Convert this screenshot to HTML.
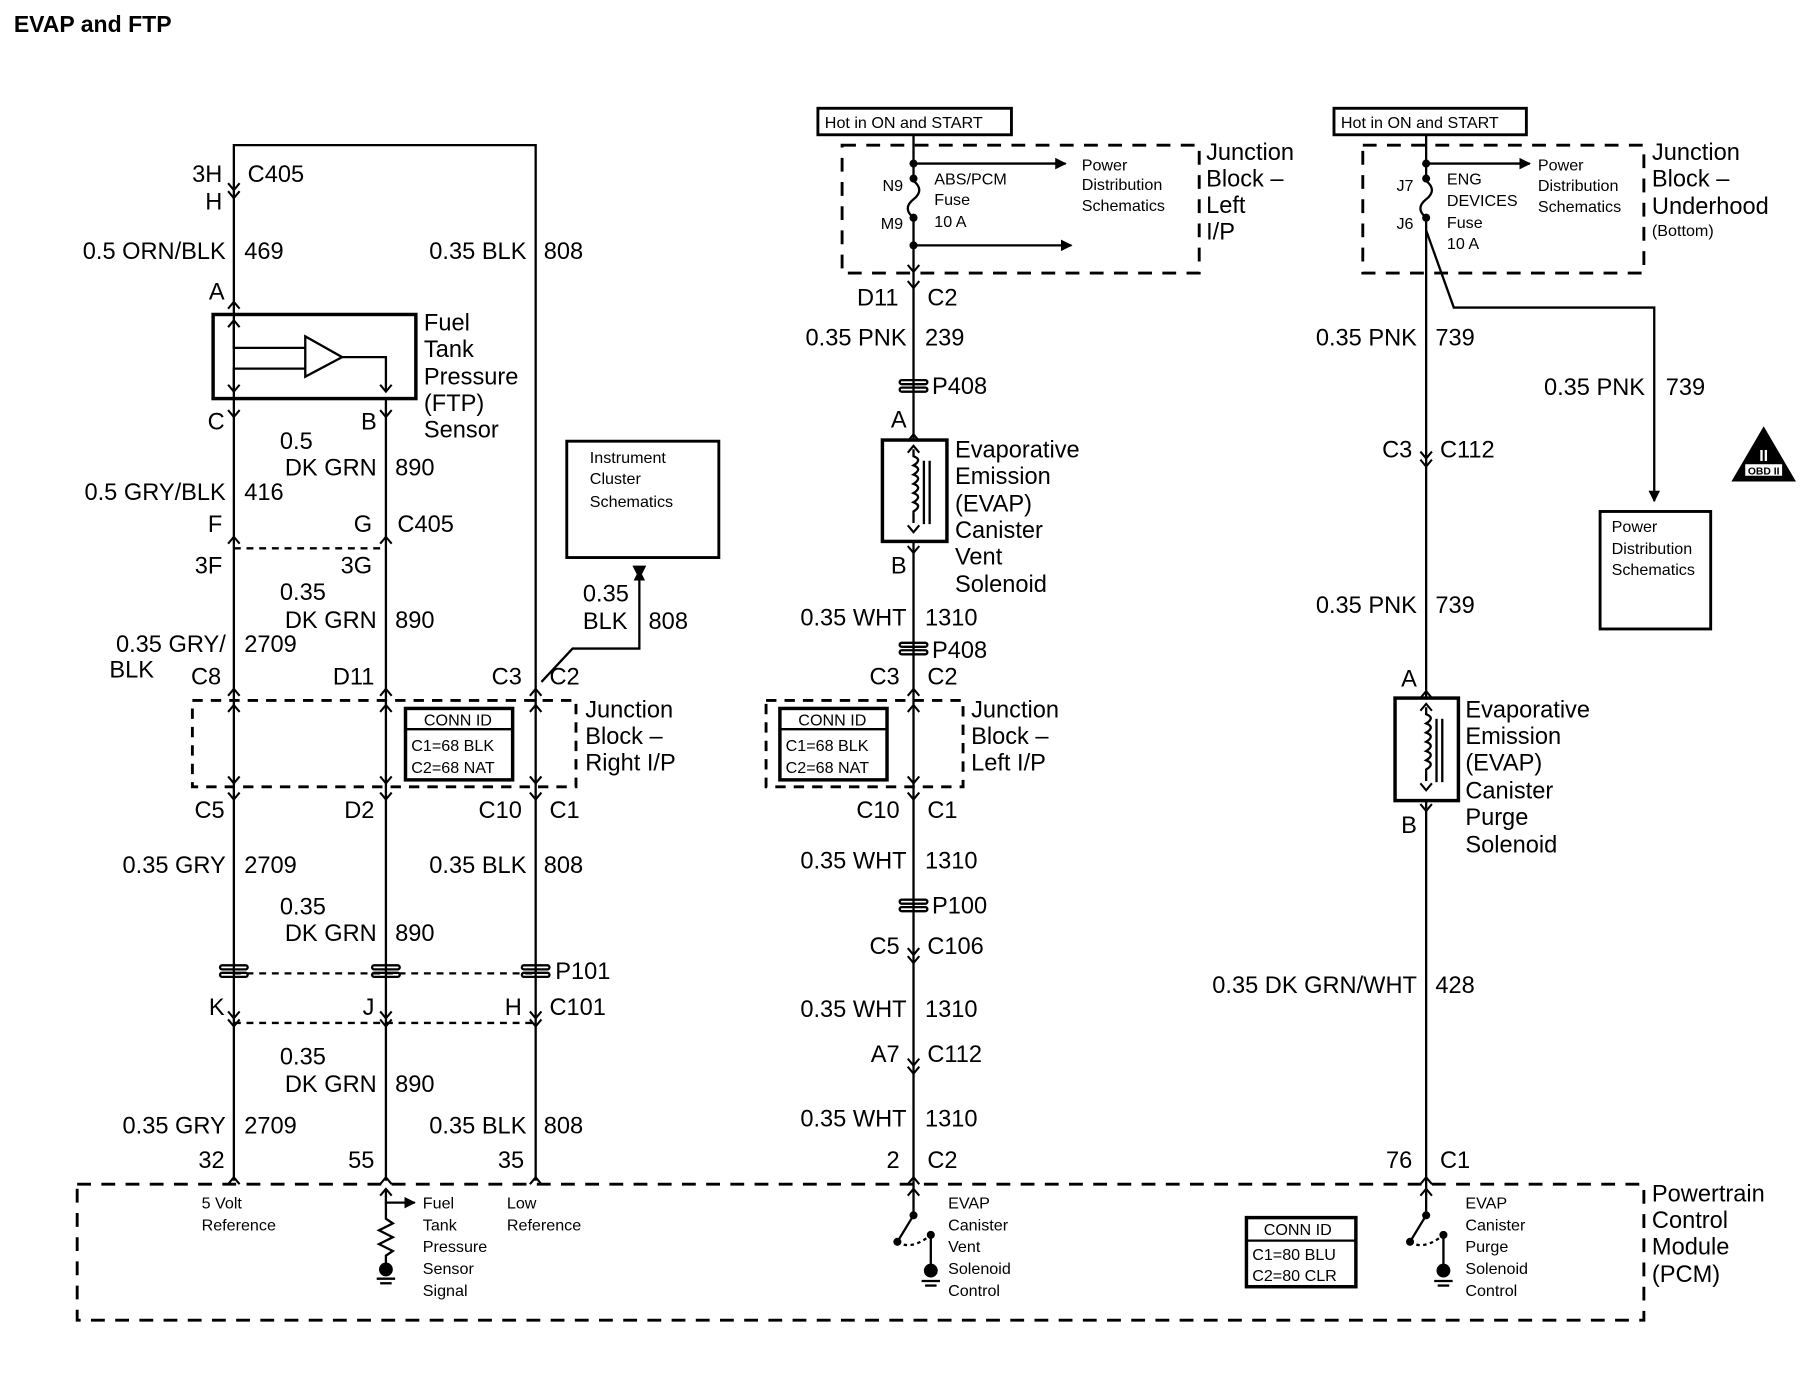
<!DOCTYPE html>
<html><head><meta charset="utf-8"><style>
html,body{margin:0;padding:0;background:#fff}
svg{display:block}
text{font-family:"Liberation Sans",Arial,sans-serif;fill:#000}
.w{font-size:20.5px}
.s{font-size:14px}
.r{text-anchor:end}
</style></head><body>
<svg width="1804" height="1376" viewBox="0 0 1566 1194.5" preserveAspectRatio="none" xmlns="http://www.w3.org/2000/svg">
<defs>
<marker id="ah" markerWidth="10" markerHeight="10" refX="9" refY="5" orient="auto" markerUnits="userSpaceOnUse"><path d="M0,0 L10,5 L0,10 z" fill="#000"/></marker>
<g id="ilc"><rect x="-12" y="-5" width="24" height="3.5" rx="1.7" fill="none" stroke="#000" stroke-width="2"/><rect x="-12" y="1.5" width="24" height="3.5" rx="1.7" fill="none" stroke="#000" stroke-width="2"/></g>
<path id="cd" d="M-5,-6 L0,0 L5,-6" fill="none" stroke="#000" stroke-width="1.8"/>
<path id="cu" d="M-5,6 L0,0 L5,6" fill="none" stroke="#000" stroke-width="1.8"/>
</defs>
<text x="12" y="28" style="font-size:20px;font-weight:bold">EVAP and FTP</text>

<g stroke="#000" stroke-width="2" fill="none">
<polyline points="203,1025 203,126 465,126 465,1025"/>
<line x1="335" y1="346" x2="335" y2="1025"/>
<rect x="185" y="273" width="176" height="73" stroke-width="3"/>
<polyline points="203,280 203,302 265,302"/>
<polyline points="265,320 203,320 203,340"/>
<polygon points="265,292 265,327 297,310"/>
<polyline points="297,310 335,310 335,340"/>
<use href="#cd" x="203" y="165"/><use href="#cd" x="203" y="172"/>
<use href="#cu" x="203" y="262"/><use href="#cu" x="203" y="278"/>
<use href="#cd" x="203" y="340"/><use href="#cd" x="335" y="340"/>
<use href="#cd" x="203" y="362"/><use href="#cd" x="335" y="362"/>
<use href="#cu" x="203" y="466"/><use href="#cu" x="335" y="466"/>
<line x1="203" y1="476" x2="335" y2="476" stroke-dasharray="6,5"/>
<use href="#cu" x="203" y="598"/><use href="#cu" x="335" y="598"/><use href="#cu" x="465" y="598"/>
<use href="#cu" x="203" y="612"/><use href="#cu" x="335" y="612"/><use href="#cu" x="465" y="612"/>
<use href="#cd" x="203" y="680"/><use href="#cd" x="335" y="680"/><use href="#cd" x="465" y="680"/>
<use href="#cd" x="203" y="694"/><use href="#cd" x="335" y="694"/><use href="#cd" x="465" y="694"/>
<rect x="167" y="608" width="333" height="75" stroke-width="2.5" stroke-dasharray="9,7"/>
<rect x="352" y="615" width="93" height="62" stroke-width="3"/>
<line x1="352" y1="633" x2="445" y2="633"/>
<polyline points="470,592 497,563 555,563 555,495" marker-end="url(#ah)"/>
<rect x="492" y="383" width="132" height="101" stroke-width="2.5"/>
<line x1="203" y1="845" x2="465" y2="845" stroke-dasharray="6,5"/>
<line x1="203" y1="888" x2="465" y2="888" stroke-dasharray="6,5"/>
<use href="#cd" x="203" y="884"/><use href="#cd" x="335" y="884"/><use href="#cd" x="465" y="884"/>
<use href="#cd" x="203" y="891"/><use href="#cd" x="335" y="891"/><use href="#cd" x="465" y="891"/>
<use href="#cu" x="203" y="1022"/><use href="#cu" x="465" y="1022"/>

<rect x="67" y="1028" width="1360" height="118" stroke-width="2.5" stroke-dasharray="12,9"/>
<rect x="1082" y="1057" width="95" height="60" stroke-width="3"/>
<line x1="1082" y1="1077" x2="1177" y2="1077"/>
<use href="#cu" x="335" y="1022"/><use href="#cu" x="335" y="1032"/>
<polyline points="335,1032 335,1044 360,1044" marker-end="url(#ah)"/>
<polyline points="335,1044 335,1058 341,1062 329,1068 341,1074 329,1080 341,1086 335,1090 335,1098"/>
<line x1="327" y1="1110" x2="343" y2="1110"/><line x1="330" y1="1114" x2="340" y2="1114"/>

<line x1="793" y1="117" x2="793" y2="155"/>
<path d="M793,157 q10,8 0,16 q-10,8 0,16"/>
<line x1="793" y1="189" x2="793" y2="382"/>
<line x1="793" y1="142" x2="925" y2="142" marker-end="url(#ah)"/>
<line x1="793" y1="213" x2="930" y2="213" marker-end="url(#ah)"/>
<rect x="731" y="126" width="310" height="111" stroke-width="2.5" stroke-dasharray="12,9"/>
<rect x="710" y="94" width="168" height="23" stroke-width="2.5"/>
<use href="#cd" x="793" y="236"/><use href="#cd" x="793" y="250"/>
<use href="#cu" x="793" y="377"/><use href="#cu" x="793" y="387"/>
<rect x="766" y="382" width="56" height="88" stroke-width="3"/>
<path d="M793,390 v6 q8,3 0,8 q8,3 0,8 q8,3 0,8 q8,3 0,8 q8,3 0,8 q8,3 0,8 v10"/>
<line x1="802" y1="400" x2="802" y2="455"/><line x1="807" y1="400" x2="807" y2="455"/>
<use href="#cd" x="793" y="462"/>
<line x1="793" y1="470" x2="793" y2="1025"/>
<use href="#cd" x="793" y="480"/>
<use href="#cu" x="793" y="598"/><use href="#cu" x="793" y="612"/>
<use href="#cd" x="793" y="680"/><use href="#cd" x="793" y="694"/>
<rect x="665" y="608" width="171" height="75" stroke-width="2.5" stroke-dasharray="9,7"/>
<rect x="677" y="615" width="93" height="62" stroke-width="3"/>
<line x1="677" y1="633" x2="770" y2="633"/>
<use href="#cd" x="793" y="829"/><use href="#cd" x="793" y="836"/>
<use href="#cd" x="793" y="925"/><use href="#cd" x="793" y="932"/>
<use href="#cu" x="793" y="1022"/><use href="#cu" x="793" y="1032"/>
<line x1="793" y1="1025" x2="793" y2="1055"/>
<line x1="793" y1="1055" x2="779" y2="1078"/>
<path d="M779,1078 q12,8 29,-6" stroke-dasharray="3,3"/>
<line x1="808" y1="1072" x2="808" y2="1100"/>
<line x1="800" y1="1112" x2="816" y2="1112"/><line x1="803" y1="1116" x2="813" y2="1116"/>

<rect x="1158" y="94" width="167" height="23" stroke-width="2.5"/>
<rect x="1183" y="126" width="244" height="111" stroke-width="2.5" stroke-dasharray="12,9"/>
<line x1="1238" y1="117" x2="1238" y2="155"/>
<path d="M1238,157 q10,8 0,16 q-10,8 0,16"/>
<line x1="1238" y1="189" x2="1238" y2="606"/>
<line x1="1238" y1="142" x2="1328" y2="142" marker-end="url(#ah)"/>
<polyline points="1238,200 1262,267 1436,267 1436,435" marker-end="url(#ah)"/>
<rect x="1389" y="444" width="96" height="102" stroke-width="2.5"/>
<use href="#cd" x="1238" y="398"/><use href="#cd" x="1238" y="405"/>
<use href="#cu" x="1238" y="600"/><use href="#cu" x="1238" y="611"/>
<rect x="1211" y="606" width="55" height="89" stroke-width="3"/>
<path d="M1238,614 v6 q8,3 0,8 q8,3 0,8 q8,3 0,8 q8,3 0,8 q8,3 0,8 q8,3 0,8 v10"/>
<line x1="1247" y1="624" x2="1247" y2="679"/><line x1="1252" y1="624" x2="1252" y2="679"/>
<use href="#cd" x="1238" y="686"/><use href="#cd" x="1238" y="704"/>
<line x1="1238" y1="695" x2="1238" y2="1055"/>
<use href="#cu" x="1238" y="1022"/><use href="#cu" x="1238" y="1032"/>
<line x1="1238" y1="1055" x2="1224" y2="1078"/>
<path d="M1224,1078 q12,8 29,-6" stroke-dasharray="3,3"/>
<line x1="1253" y1="1072" x2="1253" y2="1100"/>
<line x1="1245" y1="1112" x2="1261" y2="1112"/><line x1="1248" y1="1116" x2="1258" y2="1116"/>
</g>
<g fill="#000">
<use href="#ilc" x="203" y="843"/><use href="#ilc" x="335" y="843"/><use href="#ilc" x="465" y="843"/>
<use href="#ilc" x="793" y="335"/><use href="#ilc" x="793" y="563"/><use href="#ilc" x="793" y="786"/>
<circle cx="793" cy="142" r="3.5"/><circle cx="793" cy="155" r="3.5"/><circle cx="793" cy="189" r="3.5"/><circle cx="793" cy="213" r="3.5"/>
<circle cx="1238" cy="142" r="3.5"/><circle cx="1238" cy="155" r="3.5"/><circle cx="1238" cy="189" r="3.5"/>
<circle cx="793" cy="1055" r="3.5"/><circle cx="779" cy="1078" r="3.5"/><circle cx="808" cy="1072" r="3.5"/><ellipse cx="808" cy="1103" rx="6" ry="6"/>
<circle cx="1238" cy="1055" r="3.5"/><circle cx="1224" cy="1078" r="3.5"/><circle cx="1253" cy="1072" r="3.5"/><ellipse cx="1253" cy="1103" rx="6" ry="6"/>
<ellipse cx="335" cy="1102" rx="6" ry="6"/>
<polygon points="555,503 549,491 561,491"/>
<polygon points="1531,370 1503,418 1559,418"/>
</g>
<rect x="1515" y="403" width="32" height="10" fill="#fff"/>
<text x="1531" y="412" style="font-size:9px;font-weight:bold;text-anchor:middle">OBD II</text>
<text x="1531" y="400" style="font-size:14px;font-weight:bold;text-anchor:middle;fill:#fff">II</text>

<g class="w">
<text x="193" y="158" class="r">3H</text><text x="215" y="158">C405</text>
<text x="193" y="182" class="r">H</text>
<text x="196" y="225" class="r">0.5 ORN/BLK</text><text x="212" y="225">469</text>
<text x="457" y="225" class="r">0.35 BLK</text><text x="472" y="225">808</text>
<text x="195" y="260" class="r">A</text>
<text x="368" y="287">Fuel</text><text x="368" y="310">Tank</text><text x="368" y="334">Pressure</text><text x="368" y="357">(FTP)</text><text x="368" y="380">Sensor</text>
<text x="195" y="373" class="r">C</text><text x="327" y="373" class="r">B</text>
<text x="243" y="390">0.5</text><text x="327" y="413" class="r">DK GRN</text><text x="343" y="413">890</text>
<text x="196" y="434" class="r">0.5 GRY/BLK</text><text x="212" y="434">416</text>
<text x="193" y="462" class="r">F</text><text x="323" y="462" class="r">G</text><text x="345" y="462">C405</text>
<text x="193" y="498" class="r">3F</text><text x="323" y="498" class="r">3G</text>
<text x="243" y="521">0.35</text><text x="327" y="545" class="r">DK GRN</text><text x="343" y="545">890</text>
<text x="196" y="566" class="r">0.35 GRY/</text><text x="95" y="588">BLK</text><text x="212" y="566">2709</text>
<text x="192" y="594" class="r">C8</text><text x="325" y="594" class="r">D11</text><text x="453" y="594" class="r">C3</text><text x="477" y="594">C2</text>
<text x="506" y="522">0.35</text><text x="506" y="546">BLK</text><text x="563" y="546">808</text>
<text x="508" y="623">Junction</text><text x="508" y="646">Block –</text><text x="508" y="669">Right I/P</text>
<text x="195" y="710" class="r">C5</text><text x="325" y="710" class="r">D2</text><text x="453" y="710" class="r">C10</text><text x="477" y="710">C1</text>
<text x="196" y="758" class="r">0.35 GRY</text><text x="212" y="758">2709</text>
<text x="457" y="758" class="r">0.35 BLK</text><text x="472" y="758">808</text>
<text x="243" y="794">0.35</text><text x="327" y="817" class="r">DK GRN</text><text x="343" y="817">890</text>
<text x="482" y="850">P101</text>
<text x="195" y="881" class="r">K</text><text x="325" y="881" class="r">J</text><text x="453" y="881" class="r">H</text><text x="477" y="881">C101</text>
<text x="243" y="924">0.35</text><text x="327" y="948" class="r">DK GRN</text><text x="343" y="948">890</text>
<text x="196" y="984" class="r">0.35 GRY</text><text x="212" y="984">2709</text>
<text x="457" y="984" class="r">0.35 BLK</text><text x="472" y="984">808</text>
<text x="195" y="1014" class="r">32</text><text x="325" y="1014" class="r">55</text><text x="455" y="1014" class="r">35</text>
<text x="1434" y="1043">Powertrain</text><text x="1434" y="1066">Control</text><text x="1434" y="1089">Module</text><text x="1434" y="1113">(PCM)</text>
<text x="1047" y="139">Junction</text><text x="1047" y="162">Block –</text><text x="1047" y="185">Left</text><text x="1047" y="208">I/P</text>
<text x="780" y="265" class="r">D11</text><text x="805" y="265">C2</text>
<text x="787" y="300" class="r">0.35 PNK</text><text x="803" y="300">239</text>
<text x="809" y="342">P408</text>
<text x="787" y="371" class="r">A</text>
<text x="829" y="397">Evaporative</text><text x="829" y="420">Emission</text><text x="829" y="444">(EVAP)</text><text x="829" y="467">Canister</text><text x="829" y="490">Vent</text><text x="829" y="514">Solenoid</text>
<text x="787" y="498" class="r">B</text>
<text x="787" y="543" class="r">0.35 WHT</text><text x="803" y="543">1310</text>
<text x="809" y="571">P408</text>
<text x="781" y="594" class="r">C3</text><text x="805" y="594">C2</text>
<text x="843" y="623">Junction</text><text x="843" y="646">Block –</text><text x="843" y="669">Left I/P</text>
<text x="781" y="710" class="r">C10</text><text x="805" y="710">C1</text>
<text x="787" y="754" class="r">0.35 WHT</text><text x="803" y="754">1310</text>
<text x="809" y="793">P100</text>
<text x="781" y="828" class="r">C5</text><text x="805" y="828">C106</text>
<text x="787" y="883" class="r">0.35 WHT</text><text x="803" y="883">1310</text>
<text x="781" y="922" class="r">A7</text><text x="805" y="922">C112</text>
<text x="787" y="978" class="r">0.35 WHT</text><text x="803" y="978">1310</text>
<text x="781" y="1014" class="r">2</text><text x="805" y="1014">C2</text>
<text x="1434" y="139">Junction</text><text x="1434" y="162">Block –</text><text x="1434" y="186">Underhood</text>
<text x="1230" y="300" class="r">0.35 PNK</text><text x="1246" y="300">739</text>
<text x="1428" y="343" class="r">0.35 PNK</text><text x="1446" y="343">739</text>
<text x="1226" y="397" class="r">C3</text><text x="1250" y="397">C112</text>
<text x="1230" y="532" class="r">0.35 PNK</text><text x="1246" y="532">739</text>
<text x="1230" y="596" class="r">A</text>
<text x="1272" y="623">Evaporative</text><text x="1272" y="646">Emission</text><text x="1272" y="669">(EVAP)</text><text x="1272" y="693">Canister</text><text x="1272" y="716">Purge</text><text x="1272" y="740">Solenoid</text>
<text x="1230" y="723" class="r">B</text>
<text x="1230" y="862" class="r">0.35 DK GRN/WHT</text><text x="1246" y="862">428</text>
<text x="1226" y="1014" class="r">76</text><text x="1250" y="1014">C1</text>
</g>
<g class="s">
<text x="512" y="402">Instrument</text><text x="512" y="420">Cluster</text><text x="512" y="440">Schematics</text>
<text x="368" y="630">CONN ID</text><text x="357" y="652">C1=68 BLK</text><text x="357" y="671">C2=68 NAT</text>
<text x="693" y="630">CONN ID</text><text x="682" y="652">C1=68 BLK</text><text x="682" y="671">C2=68 NAT</text>
<text x="175" y="1049">5 Volt</text><text x="175" y="1068">Reference</text>
<text x="367" y="1049">Fuel</text><text x="367" y="1068">Tank</text><text x="367" y="1087">Pressure</text><text x="367" y="1106">Sensor</text><text x="367" y="1125">Signal</text>
<text x="440" y="1049">Low</text><text x="440" y="1068">Reference</text>
<text x="823" y="1049">EVAP</text><text x="823" y="1068">Canister</text><text x="823" y="1087">Vent</text><text x="823" y="1106">Solenoid</text><text x="823" y="1125">Control</text>
<text x="1097" y="1072">CONN ID</text><text x="1087" y="1094">C1=80 BLU</text><text x="1087" y="1112">C2=80 CLR</text>
<text x="1272" y="1049">EVAP</text><text x="1272" y="1068">Canister</text><text x="1272" y="1087">Purge</text><text x="1272" y="1106">Solenoid</text><text x="1272" y="1125">Control</text>
<text x="716" y="111">Hot in ON and START</text>
<text x="1164" y="111">Hot in ON and START</text>
<text x="762" y="166" class="r" dx="22">N9</text><text x="762" y="199" class="r" dx="22">M9</text>
<text x="811" y="160">ABS/PCM</text><text x="811" y="178">Fuse</text><text x="811" y="197">10 A</text>
<text x="939" y="148">Power</text><text x="939" y="165">Distribution</text><text x="939" y="183">Schematics</text>
<text x="1227" y="166" class="r">J7</text><text x="1227" y="199" class="r">J6</text>
<text x="1256" y="160">ENG</text><text x="1256" y="179">DEVICES</text><text x="1256" y="198">Fuse</text><text x="1256" y="216">10 A</text>
<text x="1335" y="148">Power</text><text x="1335" y="166">Distribution</text><text x="1335" y="184">Schematics</text>
<text x="1434" y="205">(Bottom)</text>
<text x="1399" y="462">Power</text><text x="1399" y="481">Distribution</text><text x="1399" y="499">Schematics</text>
</g>
</svg>
</body></html>
